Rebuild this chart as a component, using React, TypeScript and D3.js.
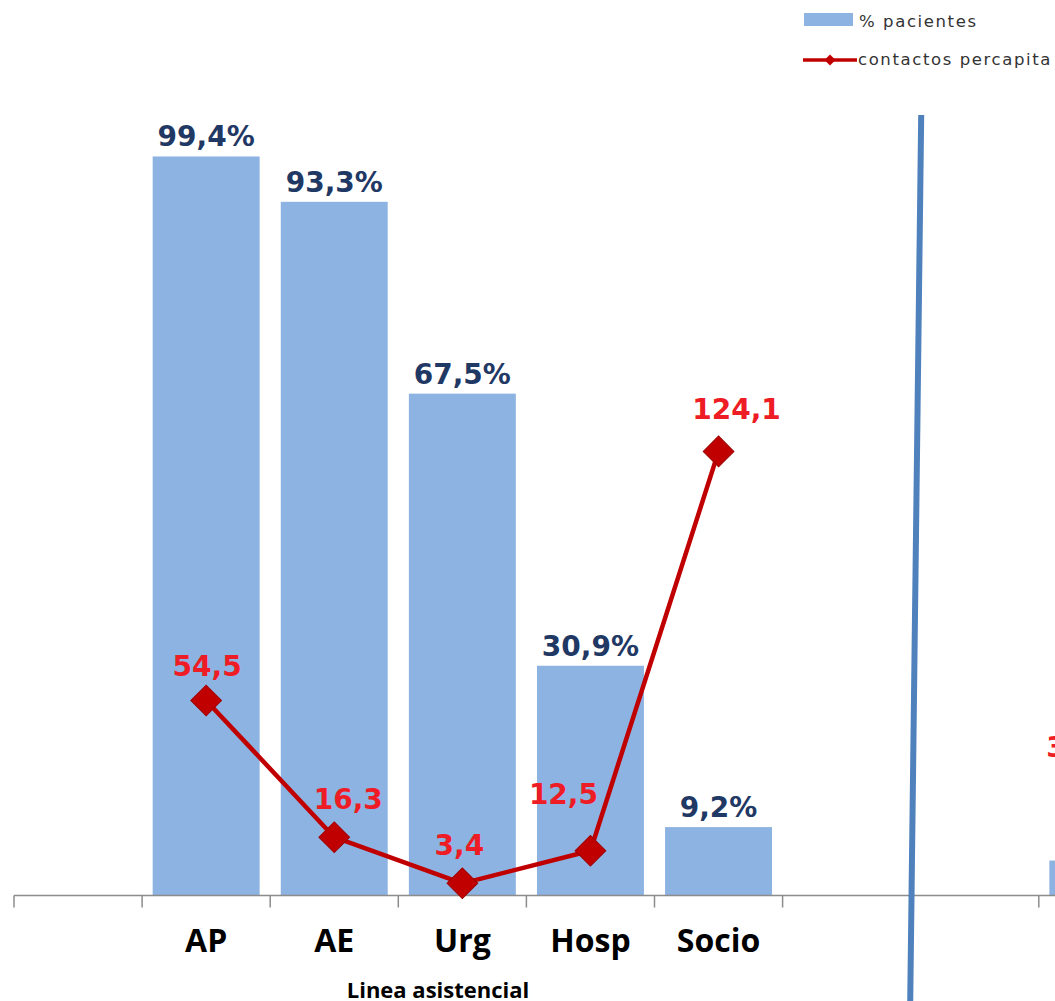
import React from "react";
import * as d3 from "d3";

// Slots along the category axis; empty names are spacer slots with no data.
const categoryLabels = ["", "AP", "AE", "Urg", "Hosp", "Socio", "", "", "AP"];
// % of patients with at least one contact in each care line
const pctPatients = [null, 99.4, 93.3, 67.5, 30.9, 9.2, null, null, 4.7];
// Contacts per capita in each care line
const contactsPerCapita = [null, 54.5, 16.3, 3.4, 12.5, 124.1, null, null, 32.0];

const seriesNames = ["% pacientes", "contactos percapita"];
const axisTitle = "Linea asistencial";

const W = 1055;
const H = 1001;

const BAR = "#8db3e2";
const NAVY = "#1f3864";
const LINE_RED = "#c00000";
const LABEL_RED = "#ee1c25";
const AXIS = "#8c8c8c";
const SEPARATOR = "#4f81bd";

const locale = d3.formatLocale({ decimal: ",", thousands: ".", grouping: [3], currency: ["", "€"] });
const fmt1 = locale.format(".1f");

// Hand-placed offsets for the per-capita labels so they clear the line
const contactLabelNudge: Record<number, [number, number]> = {
  1: [1, 4],
  2: [14, 0],
  3: [-3, 0],
  4: [-27, -19],
  5: [18, -4],
  8: [-22, 4],
};

export default function App() {
  const n = categoryLabels.length;
  const step = 128.1;
  const x0 = 14;
  const pad = 0.165;
  const x = d3
    .scaleBand<number>()
    .domain(d3.range(n))
    .range([x0, x0 + step * n])
    .paddingInner(pad)
    .paddingOuter(pad / 2);

  const baseline = 895.5;
  const yPct = d3.scaleLinear().domain([0, 100]).range([baseline, baseline - 743.5]);
  const yCnt = d3.scaleLinear().domain([0, 140]).range([baseline, baseline - 501]);

  const cx = (i: number) => (x(i) as number) + x.bandwidth() / 2;
  const boundary = (i: number) => x0 + step * i;

  const line = d3
    .line<number | null>()
    .defined((d) => d != null)
    .x((_, i) => cx(i))
    .y((d) => yCnt(d as number));

  const diamond = d3.symbol(d3.symbolSquare, 470)();
  const legendDiamond = d3.symbol(d3.symbolSquare, 60)();

  const valueFont = "'DejaVu Sans', Verdana, sans-serif";
  const catFont = "'Open Sans', Lato, sans-serif";

  return (
    <svg
      width={W}
      height={H}
      viewBox={`0 0 ${W} ${H}`}
      style={{ position: "absolute", left: 0, top: 0, background: "#fff" }}
    >
      {/* bars */}
      {pctPatients.map((v, i) =>
        v == null ? null : (
          <rect
            key={`b${i}`}
            x={x(i)}
            y={yPct(v)}
            width={x.bandwidth()}
            height={baseline - yPct(v)}
            fill={BAR}
          />
        )
      )}

      {/* bar value labels */}
      {pctPatients.map((v, i) =>
        v == null ? null : (
          <text
            key={`bl${i}`}
            x={cx(i)}
            y={yPct(v) - 10}
            textAnchor="middle"
            fontFamily={valueFont}
            fontWeight="bold"
            fontSize={28}
            fill={NAVY}
          >
            {fmt1(v)}%
          </text>
        )
      )}

      {/* category axis */}
      <line x1={x0} x2={W} y1={baseline} y2={baseline} stroke={AXIS} strokeWidth={1.5} />
      {d3.range(n + 1).map((i) => (
        <line
          key={`t${i}`}
          x1={boundary(i)}
          x2={boundary(i)}
          y1={baseline}
          y2={baseline + 12}
          stroke={AXIS}
          strokeWidth={1.5}
        />
      ))}
      {categoryLabels.map((c, i) =>
        c ? (
          <text
            key={`c${i}`}
            x={cx(i)}
            y={952}
            textAnchor="middle"
            fontFamily={catFont}
            fontWeight="bold"
            fontSize={32}
            fill="#000"
          >
            {c}
          </text>
        ) : null
      )}
      <text
        x={438}
        y={998}
        textAnchor="middle"
        fontFamily={catFont}
        fontWeight="bold"
        fontSize={22}
        fill="#000"
      >
        {axisTitle}
      </text>

      {/* contacts per capita line */}
      <path d={line(contactsPerCapita) ?? ""} fill="none" stroke={LINE_RED} strokeWidth={4.5} strokeLinejoin="round" />
      {contactsPerCapita.map((v, i) =>
        v == null ? null : (
          <path
            key={`m${i}`}
            d={diamond ?? ""}
            transform={`translate(${cx(i)},${yCnt(v)}) rotate(45)`}
            fill={LINE_RED}
            stroke="#a00000"
            strokeWidth={1}
          />
        )
      )}
      {contactsPerCapita.map((v, i) => {
        if (v == null) return null;
        const [dx, dy] = contactLabelNudge[i] ?? [0, 0];
        return (
          <text
            key={`ml${i}`}
            x={cx(i) + dx}
            y={yCnt(v) - 28 + dy}
            textAnchor="middle"
            fontFamily={valueFont}
            fontWeight="bold"
            fontSize={28}
            fill={LABEL_RED}
          >
            {fmt1(v)}
          </text>
        );
      })}

      {/* group separator */}
      <line
        x1={boundary(7) + 10.5}
        y1={115}
        x2={boundary(7) - 0.5}
        y2={H + 2}
        stroke={SEPARATOR}
        strokeWidth={6}
      />

      {/* legend */}
      <rect x={804} y={13} width={49} height={13} fill={BAR} />
      <text
        x={859}
        y={27}
        fontFamily={valueFont}
        fontSize={16.5}
        letterSpacing={1.6}
        fill="#333"
      >
        {seriesNames[0]}
      </text>
      <line x1={803} x2={857} y1={60} y2={60} stroke={LINE_RED} strokeWidth={3.5} />
      <path d={legendDiamond ?? ""} transform={`translate(830,60) rotate(45)`} fill={LINE_RED} />
      <text
        x={858}
        y={65}
        fontFamily={valueFont}
        fontSize={16.5}
        letterSpacing={1.6}
        fill="#333"
      >
        {seriesNames[1]}
      </text>
    </svg>
  );
}
